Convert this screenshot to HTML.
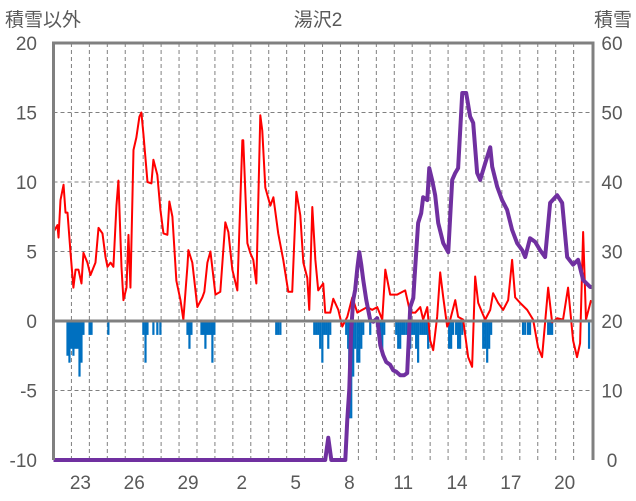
<!DOCTYPE html>
<html><head><meta charset="utf-8"><style>
html,body{margin:0;padding:0;background:#fff;}
svg{display:block;font-family:"Liberation Sans","Noto Sans CJK JP",sans-serif;}
</style></head><body>
<svg id="chart" width="636" height="501" viewBox="0 0 636 501">
<text x="5" y="26" font-size="19" fill="#595959">積雪以外</text>
<text x="318" y="26" font-size="19" fill="#595959" text-anchor="middle">湯沢2</text>
<text x="632" y="26" font-size="19" fill="#595959" text-anchor="end">積雪</text>
<g id="grid"></g>
<g id="bars"></g>
<g id="lines"></g>
<g id="frame"></g>
<g id="ticks"></g>
</svg>
<script>
const xTickLabels=["23","26","29","2","5","8","11","14","17","20"];
const xTickDays=[1,4,7,10,13,16,19,22,25,28];
const leftTicks=[20,15,10,5,0,-5,-10];
const rightTicks=[60,50,40,30,20,10,0];
const redT=[0,.22,.28,.39,.56,.67,.78,.95,1.11,1.23,1.39,1.56,1.67,1.89,2.06,2.34,2.51,2.73,2.90,3.01,3.18,3.34,3.51,3.62,3.79,3.90,4.07,4.18,4.29,4.46,4.62,4.79,4.90,5.01,5.24,5.46,5.57,5.79,5.96,6.13,6.35,6.46,6.63,6.85,7.08,7.24,7.47,7.52,7.74,8.02,8.30,8.41,8.58,8.75,9.03,9.30,9.58,9.75,9.97,10.25,10.53,10.58,10.81,10.97,11.14,11.31,11.53,11.64,11.81,12.09,12.26,12.53,12.81,13.09,13.31,13.54,13.76,13.93,14.15,14.26,14.43,14.60,14.76,15.04,15.15,15.43,15.60,15.88,16.10,16.38,16.66,16.94,17.21,17.49,17.77,18.05,18.33,18.50,18.77,19.16,19.61,19.89,20.17,20.45,20.61,20.84,21.00,21.17,21.39,21.56,21.73,21.95,22.12,22.40,22.56,22.84,23.12,23.34,23.51,23.68,23.90,24.07,24.35,24.51,24.79,25.07,25.35,25.57,25.74,26.02,26.41,26.74,27.02,27.24,27.41,27.58,27.80,28.08,28.41,28.69,28.97,29.19,29.36,29.53,29.69,29.97];
const redV=[6.4,6.9,6.0,8.7,9.8,7.8,7.8,4.9,2.4,3.7,3.7,2.7,4.9,4.2,3.3,4.2,6.7,6.3,4.6,3.9,4.2,3.9,8.3,10.1,3.9,1.5,2.4,6.2,2.4,12.3,13.2,14.7,15.0,13.5,10.0,9.9,11.6,10.5,8.0,6.3,6.2,8.6,7.5,2.9,1.5,0.1,4.0,5.1,4.2,1.0,1.7,2.1,4.2,5.0,1.9,2.1,7.1,6.4,3.7,2.2,13.0,13.0,5.6,4.9,4.4,2.7,14.8,13.7,9.6,8.3,8.9,6.3,4.4,2.1,2.1,9.3,7.6,4.2,3.1,0.8,8.2,4.4,2.2,2.7,0.6,0.6,1.6,0.8,-0.4,0.3,1.7,0.6,0.8,1.0,0.8,1.0,0.1,3.7,1.9,1.9,2.2,0.6,0.6,1.0,0.1,1.0,-1.4,-2.1,0.3,3.5,1.7,-0.4,0.1,1.5,0.3,0.1,-2.6,-3.3,3.2,1.3,0.6,0.1,0.8,2.0,1.3,0.8,1.5,4.4,1.7,1.3,0.8,0.1,-1.9,-2.6,-0.1,2.4,-0.1,0.2,0.1,2.4,-1.4,-2.6,-1.6,6.4,0.1,1.5];
const snowT=[0,15.15,15.32,15.49,16.27,16.38,16.49,16.60,16.71,16.82,16.94,17.05,17.16,17.27,17.44,17.66,17.83,18.05,18.22,18.38,18.55,18.77,18.94,19.11,19.33,19.55,19.72,19.89,20.06,20.17,20.33,20.50,20.61,20.84,20.95,21.11,21.28,21.45,21.73,22.01,22.23,22.40,22.56,22.79,23.01,23.23,23.40,23.62,23.79,24.07,24.35,24.46,24.74,25.01,25.29,25.57,25.85,26.13,26.30,26.57,26.85,27.13,27.41,27.69,28.08,28.36,28.64,28.97,29.25,29.53,29.92];
const snowV=[0,0,3.2,0,0,5.8,10.1,18.7,23.0,24.5,27.6,29.9,28.1,25.9,23.0,20.1,19.9,20.4,16.5,15.1,14.1,13.7,12.9,12.7,12.2,12.2,12.5,22.0,23.3,27.8,34.1,35.5,37.8,37.4,42.0,40.3,38.1,34.1,31.2,29.9,40.3,41.3,42.0,52.8,52.8,49.4,48.5,41.3,40.3,42.7,45.0,42.2,39.3,37.4,36.0,33.1,31.2,30.2,29.2,31.9,31.4,30.2,29.2,37.0,38.1,37.0,29.2,28.1,28.8,25.9,24.9];
const barT=[.78,.89,1.0,1.11,1.23,1.34,1.45,1.56,1.67,2.01,2.12,3.06,5.01,5.13,5.24,5.57,5.79,5.96,7.47,7.58,7.69,8.25,8.36,8.47,8.58,8.69,8.80,8.86,8.97,12.42,12.53,12.65,14.54,14.65,14.76,14.87,14.99,15.10,15.21,15.32,15.43,16.32,16.43,16.49,16.60,16.71,16.82,16.94,17.05,17.16,17.27,17.66,18.11,18.22,18.33,18.44,19.11,19.22,19.33,19.44,19.55,19.67,19.78,19.89,20.0,20.11,20.22,20.33,20.45,20.56,20.67,20.78,20.89,22.06,22.17,22.28,22.45,22.56,22.67,22.79,23.96,24.07,24.18,24.29,24.40,26.18,26.30,26.46,26.57,27.58,27.69,27.80,29.86];
const barV=[-2.5,-3,-2,-2.5,-2,-2,-4,-3,-1,-1,-1,-1,-1,-3,-1,-1,-1,-1,-1,-2,-1,-1,-1,-2,-1,-1,-1,-3,-1,-1,-1,-1,-1,-1,-1,-2,-3,-1,-1,-2,-1,-1,-2,-7,-7,-4,-2,-3,-3,-2,-1,-1,-1,-2,-2,-1,-1,-2,-2,-1,-1,-1,-1,-2,-1,-1,-2,-3,-1,-1,-1,-1,-2,-2,-2,-1,-1,-2,-2,-1,-2,-2,-3,-2,-1,-1,-1,-1,-1,-1,-1,-1,-2];

const X0=53.5,X1=593,Y0=43,Y1=460,NDAYS=30.08;
const xS=d=>X0+d/NDAYS*(X1-X0);
const yL=v=>Y1-(v+10)/30*(Y1-Y0);
const yR=v=>Y1-v/60*(Y1-Y0);
const NS="http://www.w3.org/2000/svg";
function mk(tag,attrs,parent){const e=document.createElementNS(NS,tag);for(const k in attrs)e.setAttribute(k,attrs[k]);parent.appendChild(e);return e;}
const grid=document.getElementById('grid'),bars=document.getElementById('bars'),lines=document.getElementById('lines'),frame=document.getElementById('frame'),ticks=document.getElementById('ticks');
for(let d=1;d<30;d++){const x=xS(d);
const g=mk('line',{x1:x,x2:x,y1:Y0,y2:Y1,stroke:'#808080','stroke-width':1,'stroke-dasharray':'4,3'},grid);

}
leftTicks.forEach(v=>{if(v===20||v===-10||v===0)return;const y=yL(v);
const g=mk('line',{x1:X0,x2:X1,y1:y,y2:y,stroke:'#808080','stroke-width':1,'stroke-dasharray':'4,3'},grid);

});
barT.forEach((t,i)=>{const x=xS(t),y0=yL(0),y=yL(barV[i]);
const r=mk('rect',{x:x-1.1,y:y0,width:2.2,height:y-y0,fill:'#0070c0'},bars);

});
const zl=mk('line',{x1:X0,x2:X1,y1:yL(0),y2:yL(0),stroke:'#808080','stroke-width':3},frame);


const red=mk('polyline',{points:redT.map((t,i)=>xS(t)+','+yL(redV[i])).join(' '),fill:'none',stroke:'#ff0000','stroke-width':2,'stroke-linejoin':'round'},lines);


const pts=snowT.map((t,i)=>xS(t)+','+yR(snowV[i]));pts.push(xS(30.08)+','+yR(snowV[snowV.length-1]));
const snow=mk('polyline',{points:pts.join(' '),fill:'none',stroke:'#7030a0','stroke-width':4,'stroke-linejoin':'round'},lines);


const fr=mk('path',{d:`M${X0} ${Y1} L${X0} ${Y0} L${X1} ${Y0} L${X1} ${Y1}`,fill:'none',stroke:'#808080','stroke-width':3},frame);


leftTicks.forEach(v=>{const t=mk('text',{x:37,y:yL(v)+7,'font-size':19,fill:'#595959','text-anchor':'end'},ticks);t.textContent=v;

});
rightTicks.forEach(v=>{const t=mk('text',{x:612,y:yR(v)+7,'font-size':19,fill:'#595959','text-anchor':'middle'},ticks);t.textContent=v;

});
xTickLabels.forEach((l,i)=>{const t=mk('text',{x:xS(xTickDays[i]+0.5),y:489,'font-size':19,fill:'#595959','text-anchor':'middle'},ticks);t.textContent=l;

});
</script>
</body></html>
